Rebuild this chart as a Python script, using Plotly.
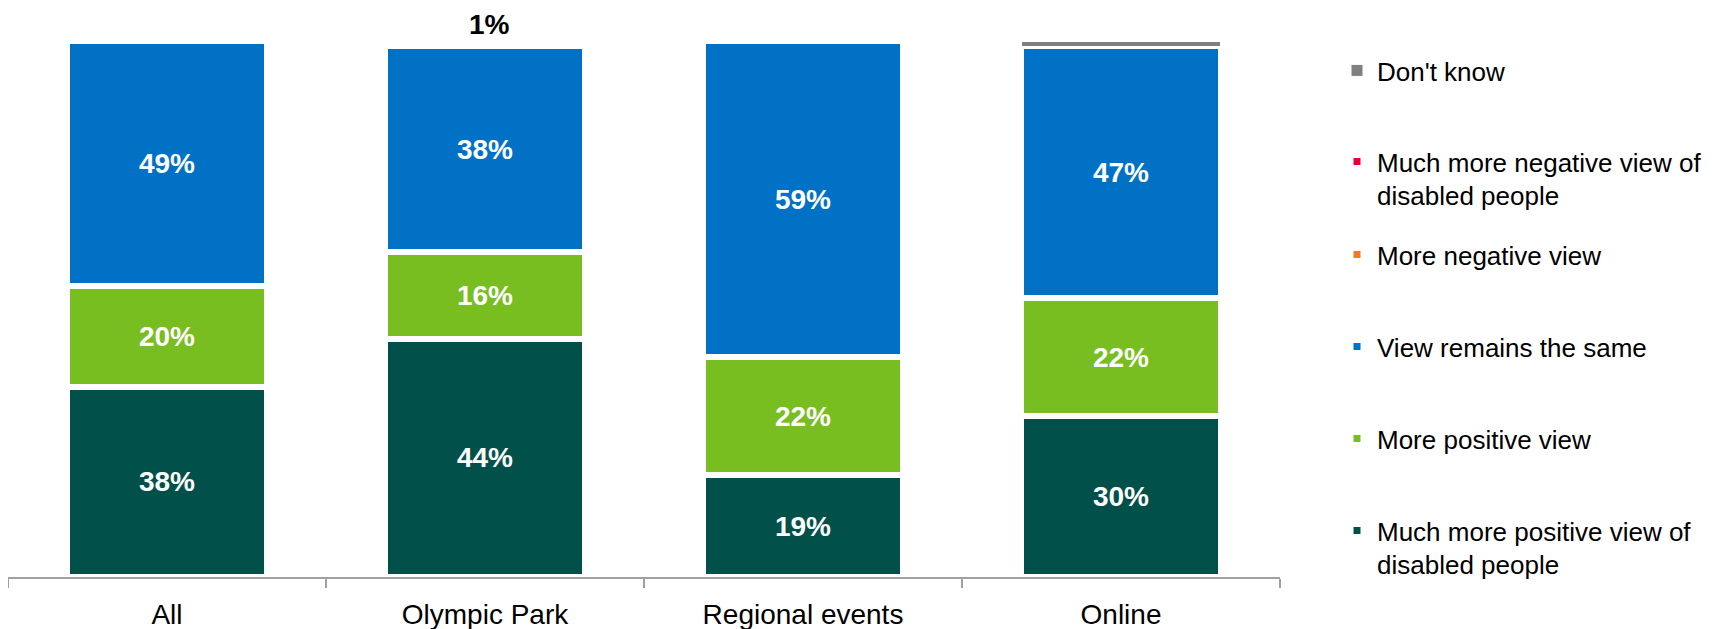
import plotly.graph_objects as go

categories = ["All", "Olympic Park", "Regional events", "Online"]
much_more_positive = [38, 44, 19, 30]
more_positive = [20, 16, 22, 22]
view_same = [49, 38, 59, 47]
more_negative = [0, 0, 0, 0]
much_more_negative = [0, 1, 0, 0]
dont_know = [0, 0, 0, 1]
top_labels = ["", "1%", "", ""]

series = [
    ("Much more positive view of<br>disabled people", much_more_positive, "#02504A", 6),
    ("More positive view", more_positive, "#78BE20", 6),
    ("View remains the same", view_same, "#0071C5", 6),
    ("More negative view", more_negative, "#F47920", 6),
    ("Much more negative view of<br>disabled people", much_more_negative, "#E4003B", 6),
    ("Don't know", dont_know, "#7F7F7F", 1),
]

FONT = "Arial, Liberation Sans, sans-serif"
W, H = 1715, 629

fig = go.Figure()
legend_ids = ["legend6", "legend5", "legend4", "legend3", "legend2", "legend"]
for i, (name, vals, color, lw) in enumerate(series):
    fig.add_trace(go.Bar(
        x=categories, y=vals, name=name,
        marker=dict(color=color, line=dict(color="white", width=lw)),
        text=[f"{v}%" if v >= 5 else "" for v in vals], texttemplate="%{text}",
        textposition="inside",
        insidetextanchor="middle",
        textangle=0,
        constraintext="none",
        insidetextfont=dict(color="white", size=28, family=FONT, weight="bold"),
        legend=legend_ids[i],
        hoverinfo="skip",
    ))

# label above the stack (value of the tiny top segment)
annotations = []
for cat, lab in zip(categories, top_labels):
    if lab:
        annotations.append(dict(
            x=cat, y=100, xref="x", yref="y", text=lab, showarrow=False,
            yanchor="bottom", yshift=-1, xshift=4,
            font=dict(size=28, family=FONT, color="black", weight="bold"),
        ))

# legend first-line centers (page pixels), top item first
legend_rows = {"legend": 72, "legend2": 163, "legend3": 256,
               "legend4": 348, "legend5": 440, "legend6": 532}
legend_layout = {}
for lid, py in legend_rows.items():
    legend_layout[lid] = dict(
        x=1329 / W, y=1 - (py - 33) / H, xref="container", yref="container",
        xanchor="left", yanchor="top", valign="top",
        font=dict(size=26, family=FONT, color="black"),
        bgcolor="rgba(0,0,0,0)", borderwidth=0, visible=True,
    )

fig.update_layout(
    barmode="stack", barnorm="percent", bargap=0.374,
    width=W, height=H, showlegend=True,
    margin=dict(l=0, r=W - 1272, t=33, b=60, autoexpand=False),
    plot_bgcolor="white", paper_bgcolor="white",
    font=dict(family=FONT, size=26, color="black"),
    xaxis=dict(
        showline=True, linecolor="#A0A0A0", linewidth=2,
        ticks="outside", tickson="boundaries", ticklen=9, tickcolor="#A0A0A0", tickwidth=2,
        tickfont=dict(size=28, family=FONT, color="black"),
        ticklabelstandoff=11,
        showgrid=False, fixedrange=True,
    ),
    yaxis=dict(range=[0, 100], visible=False, showgrid=False, fixedrange=True),
    annotations=annotations,
    **legend_layout,
)

fig.write_html("out.html")
